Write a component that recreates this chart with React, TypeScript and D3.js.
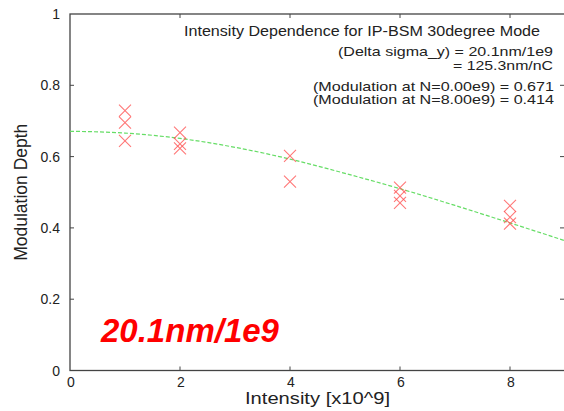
import React, { useEffect, useRef } from "react";
import * as d3 from "d3";

// measured intensities (x10^9) and modulation depth
const intensity = [1, 1, 1, 2, 2, 2, 4, 4, 6, 6, 6, 8, 8, 8];
const modulation = [0.729, 0.695, 0.644, 0.667, 0.636, 0.623, 0.602, 0.53, 0.513, 0.49, 0.47, 0.462, 0.43, 0.412];

// fit curve
const fitN = [0, 1, 2, 3, 4, 5, 6, 7, 8, 9];
const fitM = [0.671, 0.666, 0.651, 0.626, 0.593, 0.553, 0.51, 0.463, 0.414, 0.364];

const xTicks = [0, 2, 4, 6, 8];
const yTicks = [0, 0.2, 0.4, 0.6, 0.8, 1];

const infoLines = [
    "(Delta sigma_y) = 20.1nm/1e9",
    "= 125.3nm/nC",
    "(Modulation at N=0.00e9) = 0.671",
    "(Modulation at N=8.00e9) = 0.414",
];

const W = 564;
const H = 411;
const FONT = "'Liberation Sans', Arial, Helvetica, sans-serif";

export default function App() {
    const ref = useRef<SVGSVGElement>(null);

    useEffect(() => {
        const svg = d3.select(ref.current);
        svg.selectAll("*").remove();

        const x = d3.scaleLinear().domain([0, 9]).range([70, 565]);
        const y = d3.scaleLinear().domain([0, 1]).range([370.5, 14]);

        svg.append("rect").attr("width", W).attr("height", H).style("fill", "#fff");

        const axisCol = "#444";

        // frame
        svg.append("rect")
            .attr("x", x(0)).attr("y", y(1))
            .attr("width", x(9) - x(0)).attr("height", y(0) - y(1))
            .style("fill", "none").style("stroke", axisCol).style("stroke-width", 1.3);

        // ticks pointing inward on all sides
        xTicks.filter(d => d > 0).forEach(d => {
            svg.append("line").attr("x1", x(d)).attr("x2", x(d)).attr("y1", y(0)).attr("y2", y(0) - 4)
                .style("stroke", axisCol);
            svg.append("line").attr("x1", x(d)).attr("x2", x(d)).attr("y1", y(1)).attr("y2", y(1) + 4)
                .style("stroke", axisCol);
        });
        yTicks.filter(d => d > 0 && d < 1).forEach(d => {
            svg.append("line").attr("x1", x(0)).attr("x2", x(0) + 4).attr("y1", y(d)).attr("y2", y(d))
                .style("stroke", axisCol);
            svg.append("line").attr("x1", 564).attr("x2", 560).attr("y1", y(d)).attr("y2", y(d))
                .style("stroke", axisCol);
        });

        svg.selectAll("text.xt")
            .data(xTicks).enter().append("text")
            .attr("x", d => x(d) + 1).attr("y", 387)
            .attr("text-anchor", "middle")
            .style("font-family", FONT).style("font-size", "14px").style("fill", "#222")
            .text(d => String(d));

        svg.selectAll("text.yt")
            .data(yTicks).enter().append("text")
            .attr("x", 60).attr("y", d => y(d) + 5)
            .attr("text-anchor", "end")
            .style("font-family", FONT).style("font-size", "14px").style("fill", "#222")
            .text(d => String(d));

        svg.append("text")
            .attr("x", 245).attr("y", 404)
            .attr("textLength", 145).attr("lengthAdjust", "spacingAndGlyphs")
            .style("font-family", FONT).style("font-size", "16px").style("fill", "#222")
            .text("Intensity [x10^9]");

        svg.append("text")
            .attr("transform", `translate(27,${y(0.5)}) rotate(-90)`)
            .attr("text-anchor", "middle")
            .style("font-family", FONT).style("font-size", "17.5px").style("fill", "#222")
            .text("Modulation Depth");

        // fit
        const line = d3.line<number>()
            .x((_, i) => x(fitN[i]))
            .y(d => y(d))
            .curve(d3.curveMonotoneX);
        svg.append("path")
            .attr("d", line(fitM))
            .style("fill", "none")
            .style("stroke", "#66dd66")
            .style("stroke-width", 1.2)
            .style("stroke-dasharray", "4,2");

        // data crosses
        const s = 6;
        const pts = svg.selectAll("g.pt")
            .data(modulation).enter().append("g")
            .attr("transform", (d, i) => `translate(${x(intensity[i])},${y(d)})`);
        pts.append("path")
            .attr("d", `M${-s},${-s}L${s},${s}M${-s},${s}L${s},${-s}`)
            .style("stroke", "#ff5555")
            .style("stroke-opacity", 0.8)
            .style("stroke-width", 1.1);

        // title and fit results
        svg.append("text")
            .attr("x", 184).attr("y", 36)
            .attr("textLength", 356).attr("lengthAdjust", "spacingAndGlyphs")
            .style("font-family", FONT).style("font-size", "14.5px").style("fill", "#222")
            .text("Intensity Dependence for IP-BSM 30degree Mode");

        const infoY = [55.5, 69.5, 90.5, 104];
        const infoX = [338, 453, 313, 313];
        const infoLen = [215, 100, 241, 241];
        svg.selectAll("text.info")
            .data(infoLines).enter().append("text")
            .attr("x", (_, i) => infoX[i]).attr("y", (_, i) => infoY[i])
            .attr("textLength", (_, i) => infoLen[i]).attr("lengthAdjust", "spacingAndGlyphs")
            .style("font-family", FONT).style("font-size", "13px").style("fill", "#222")
            .text(d => d);

        svg.append("text")
            .attr("x", 101).attr("y", 341.5)
            .style("font-family", FONT).style("font-size", "33px")
            .style("font-weight", "bold").style("font-style", "italic")
            .style("fill", "#ff0000")
            .text("20.1nm/1e9");
    }, []);

    return (
        <svg ref={ref} width={W} height={H}
            style={{ position: "absolute", left: 0, top: 0, display: "block" }}></svg>
    );
}
